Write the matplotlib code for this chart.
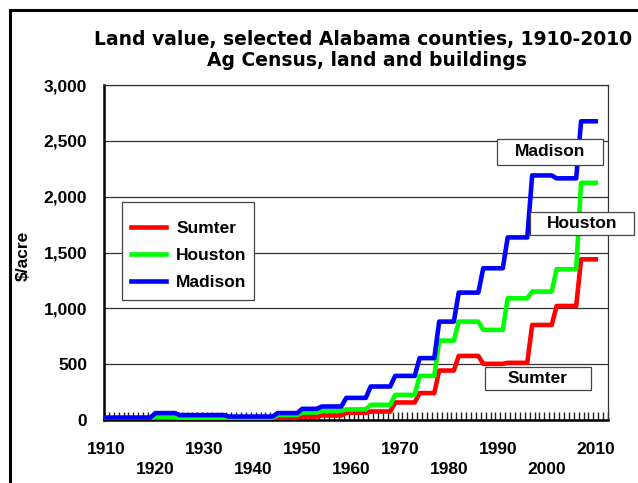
import numpy as np
import matplotlib
matplotlib.use("Agg")
import matplotlib.pyplot as plt
from matplotlib.patches import Rectangle

plt.rcParams['font.family'] = ['Liberation Sans', 'DejaVu Sans']
plt.rcParams['font.weight'] = 'bold'
plt.rcParams['axes.labelweight'] = 'bold'

# census years and $/acre values (land and buildings)
census_years = [1910, 1920, 1925, 1930, 1935, 1940, 1945, 1950, 1954, 1959,
                1964, 1969, 1974, 1978, 1982, 1987, 1992, 1997, 2002, 2007]
sumter = [6, 10, 10, 13, 11, 11, 20, 31, 40, 65,
          76, 157, 241, 443, 574, 503, 512, 851, 1021, 1439]
houston = [15, 26, 20, 20, 20, 20, 45, 67, 82, 95,
           136, 225, 395, 711, 881, 807, 1090, 1150, 1350, 2124]
madison = [22, 62, 44, 44, 31, 31, 62, 100, 121, 198,
           300, 395, 554, 881, 1141, 1359, 1635, 2190, 2164, 2675]

series_names = ['Sumter', 'Houston', 'Madison']
series_colors = ['#ff0000', '#00ff00', '#0000ff']
decade_labels = [str(y) for y in range(1910, 2011, 10)]

W, H = 638, 483


def fx(px):
    return px / W


def fy(py):
    return 1 - py / H


def fig_box(x0, y0, x1, y1, **kw):
    # rectangle given in figure pixels (y measured from the top)
    r = Rectangle((fx(x0), fy(y1)), fx(x1) - fx(x0), fy(y0) - fy(y1),
                  transform=fig.transFigure, **kw)
    fig.patches.append(r)
    return r


# annual series: each year holds the latest census value
years = np.arange(1910, 2011)
idx = np.searchsorted(census_years, years, side='right') - 1

fig = plt.figure(figsize=(W / 100, H / 100), dpi=100)
ax = fig.add_axes([fx(104), fy(420), fx(608) - fx(104), fy(85) - fy(420)])

lines = []
for name, vals, col in zip(series_names, [sumter, houston, madison], series_colors):
    ln, = ax.plot(years, np.array(vals)[idx], color=col, lw=3.3, label=name,
                  solid_joinstyle='round', zorder=3)
    lines.append(ln)

ax.set_xlim(1909.5, 2012.5)
ax.set_ylim(0, 3000)
ax.set_yticks(np.arange(0, 3001, 500))
ax.set_yticklabels([f'{v:,}' for v in range(0, 3001, 500)])
ax.yaxis.grid(True, color='#333333', lw=0.9)
ax.set_axisbelow(True)
ax.tick_params(axis='y', length=0, pad=12, labelsize=12.5)

ax.set_xticks(range(1910, 2011, 10))
ax.set_xticklabels([lab if i % 2 == 0 else '\n' + lab for i, lab in enumerate(decade_labels)])
ax.tick_params(axis='x', which='major', length=0, pad=15.5, labelsize=12.5)
for lbl in ax.get_xticklabels():
    lbl.set_linespacing(1.45)
ax.set_xticks(np.arange(1909.5, 2013, 1), minor=True)
ax.tick_params(axis='x', which='minor', direction='in', length=6, width=1, color='#222222')

ax.set_ylabel('$/acre', fontsize=12.5)
ax.yaxis.set_label_coords((31 - 104) / 504, 0.49)

for s in ['left', 'bottom']:
    ax.spines[s].set_linewidth(1.8)
for s in ['top', 'right']:
    ax.spines[s].set_linewidth(0.9)
    ax.spines[s].set_color('#333333')

# legend: entries placed inside a drawn frame
fig_box(122, 202, 254, 300, facecolor='white', edgecolor='#444444', lw=0.9, zorder=4)
leg = fig.legend(handles=lines, loc='upper left', bbox_to_anchor=(fx(131), fy(221)),
                 borderaxespad=0, frameon=False, fontsize=12.5, handlelength=2.0,
                 handletextpad=0.6, labelspacing=0.68, borderpad=0)
leg.set_zorder(6)

# labels in boxes near the line ends
boxes = [('Madison', 497, 139, 603, 165),
         ('Houston', 530, 212, 634, 235),
         ('Sumter', 485, 367, 591, 390)]
for text, x0, y0, x1, y1 in boxes:
    fig_box(x0, y0, x1, y1, facecolor='white', edgecolor='#444444', lw=0.9, zorder=5)
    fig.text(fx((x0 + x1) / 2), fy((y0 + y1) / 2), text, ha='center', va='center',
             fontsize=12.5, zorder=6)

title_font = ['DejaVu Sans']
fig.text(fx(363), fy(45), 'Land value, selected Alabama counties, 1910-2010',
         ha='center', va='baseline', fontsize=13.5, family=title_font)
fig.text(fx(367), fy(65.5), 'Ag Census, land and buildings',
         ha='center', va='baseline', fontsize=13.5, family=title_font)

# outer frame
fig_box(10, 10, 650, 490, fill=False, edgecolor='black', lw=2.2, zorder=10)

fig.savefig('out.png', dpi=100)
